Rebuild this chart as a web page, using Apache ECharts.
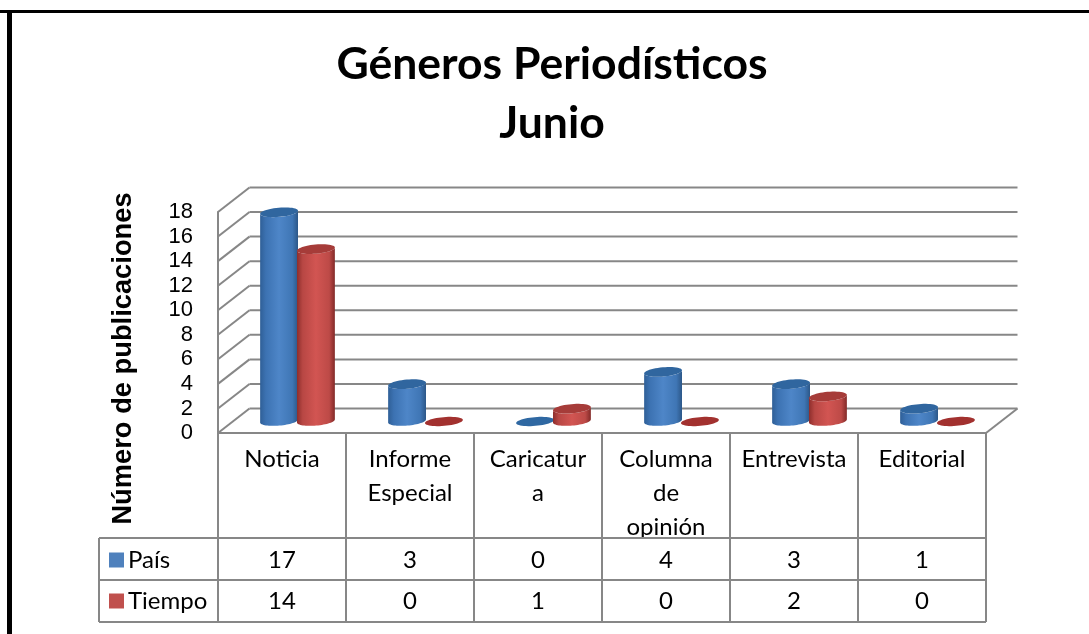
<!DOCTYPE html>
<html><head><meta charset="utf-8">
<style>html,body{margin:0;padding:0;background:#fff}#c{width:1089px;height:634px}</style>
<script src="https://cdn.jsdelivr.net/npm/echarts@6/dist/echarts.min.js"></script>
</head><body><div id="c"></div>
<script>
const categories = ['Noticia','Informe\nEspecial','Caricatur\na','Columna\nde\nopinión','Entrevista','Editorial'];
const pais = [17,3,0,4,3,1];
const tiempo = [14,0,1,0,2,0];
const yTicks = [0,2,4,6,8,10,12,14,16,18];
const seriesNames = ['País','Tiempo'];
const chartTitle = 'Géneros Periodísticos\nJunio';
const yName = 'Número de publicaciones';

const GRID='#878787', DX=31.5, DY=24.5, MIDX=15.5, MIDY=12, RX=19, RY=4.6, TILT=5*Math.PI/180;
const ROW=[538,580,622], TABLE_LEFT=99;
const CAL='Lato, Carlito, sans-serif';

function ell(cx,cy,rx,ry,from,to,n){
  const pts=[];
  for(let i=0;i<=n;i++){
    const t=from+(to-from)*i/n, x=rx*Math.cos(t), y=ry*Math.sin(t);
    pts.push([cx+x*Math.cos(TILT)+y*Math.sin(TILT), cy-x*Math.sin(TILT)+y*Math.cos(TILT)]);
  }
  return pts;
}
function cylinder(stops,topColor,flatColor,side){
  return function(p,api){
    const c0=api.coord([api.value(0),0]), c1=api.coord([api.value(0),api.value(1)]);
    const cx=c0[0]+MIDX+side*RX*0.97, yb=c0[1]-MIDY, yt=c1[1]-MIDY;
    if(api.value(1)===0){
      return {type:'polygon',shape:{points:ell(cx,yb+0.5,RX,RY*0.95,0,Math.PI*2,48)},style:{fill:flatColor,stroke:null}};
    }
    const bottom=ell(cx,yb,RX,RY,0,Math.PI,32), top=ell(cx,yt,RX,RY,Math.PI,0,32);
    const grad={type:'linear',x:0,y:0,x2:1,y2:0,colorStops:stops};
    return {type:'group',children:[
      {type:'polygon',shape:{points:bottom.concat(top)},style:{fill:grad}},
      {type:'polygon',shape:{points:ell(cx,yt,RX,RY,0,Math.PI*2,48)},style:{fill:topColor}}
    ]};
  };
}
function walls(p,api){
  const v=api.value(0), f0=api.coord([0,v]), s=api.size([1,0])[0];
  const x0=f0[0]-s/2, x1=x0+s*categories.length, y=f0[1];
  const line=(a,b,c,d)=>({type:'line',shape:{x1:a,y1:b,x2:c,y2:d},style:{stroke:GRID,lineWidth:2}});
  const kids=[line(x0+DX,y-DY,x1+DX,y-DY),line(x0,y,x0+DX,y-DY)];
  if(v===0) kids.push(line(x1,y,x1+DX,y-DY));
  return {type:'group',children:kids};
}
function table(p,api){
  const i=api.value(0), c=api.coord([i,0]), s=api.size([1,0])[0];
  const x0=c[0]-s/2, x1=c[0]+s/2;
  const line=(a,b,e,d)=>({type:'line',shape:{x1:a,y1:b,x2:e,y2:d},style:{stroke:GRID,lineWidth:2}});
  const cell=(v,y)=>({type:'text',style:{text:String(v),x:c[0],y:y,align:'center',verticalAlign:'middle',font:'24px '+CAL,fill:'#000'}});
  const kids=[line(x1,c[1],x1,ROW[2]),line(x0,ROW[0],x1,ROW[0]),line(x0,ROW[1],x1,ROW[1]),line(x0,ROW[2],x1,ROW[2]),
    cell(api.value(1),ROW[0]+22),cell(api.value(2),ROW[1]+21)];
  if(i===0){
    kids.push(line(x0,c[1],x0,ROW[2]),line(TABLE_LEFT,ROW[0],x0,ROW[0]),line(TABLE_LEFT,ROW[1],x0,ROW[1]),
      line(TABLE_LEFT,ROW[2],x0,ROW[2]),line(TABLE_LEFT,ROW[0],TABLE_LEFT,ROW[2]));
  }
  return {type:'group',children:kids};
}
const blueStops=[{offset:0,color:'#2f5f97'},{offset:.15,color:'#3c72b2'},{offset:.5,color:'#4e86c8'},{offset:.85,color:'#3f76b5'},{offset:1,color:'#2c5788'}];
const redStops=[{offset:0,color:'#8e2e2c'},{offset:.15,color:'#b84744'},{offset:.5,color:'#d25552'},{offset:.85,color:'#bd4a47'},{offset:1,color:'#822a28'}];
const common={type:'custom',coordinateSystem:'cartesian2d',clip:false,silent:true};
const chart=echarts.init(document.getElementById('c'),null,{renderer:'canvas'});
chart.setOption({
  animation:false,backgroundColor:'#fff',
  title:{text:chartTitle,left:547,textAlign:'center',top:30,textStyle:{fontFamily:CAL,fontWeight:'bold',fontSize:44.5,lineHeight:59,color:'#000'}},
  legend:{orient:'vertical',left:109,top:548,padding:0,icon:'rect',itemWidth:15,itemHeight:15,itemGap:17,data:seriesNames,selectedMode:false,
    textStyle:{fontFamily:CAL,fontSize:24,color:'#000',padding:[0,0,0,-1]}},
  grid:{left:218,right:103,top:212,bottom:201},
  xAxis:{type:'category',data:categories,boundaryGap:true,axisTick:{show:false},
    axisLine:{show:true,lineStyle:{color:GRID,width:2}},
    axisLabel:{interval:0,margin:9,fontFamily:CAL,fontSize:24,lineHeight:34,color:'#000',verticalAlign:'top'},splitLine:{show:false}},
  yAxis:{type:'value',min:0,max:18,interval:2,name:yName,nameLocation:'middle',nameGap:81,nameRotate:90,
    nameTextStyle:{fontFamily:'Liberation Sans',fontWeight:'bold',fontSize:27.3,color:'#000',padding:[0,72,0,0]},
    axisLine:{show:true,lineStyle:{color:GRID,width:2}},axisTick:{show:false},splitLine:{show:false},
    axisLabel:{margin:25,fontFamily:'Liberation Sans',fontSize:22,color:'#000',padding:[3,0,0,0],
      formatter:v=>yTicks.includes(v)?String(v):''}},
  graphic:[
    {type:'rect',shape:{x:0,y:10,width:1089,height:3},style:{fill:'#000'},z:10},
    {type:'rect',shape:{x:7,y:10,width:5,height:624},style:{fill:'#000'},z:10}
  ],
  series:[
    Object.assign({},common,{name:'_walls',z:1,renderItem:walls,data:yTicks.map(v=>[v]),encode:{y:0}}),
    Object.assign({},common,{name:'_table',z:1,renderItem:table,data:categories.map((c,i)=>[i,pais[i],tiempo[i]]),encode:{x:0}}),
    Object.assign({},common,{name:seriesNames[0],z:3,itemStyle:{color:'#4f81bd'},renderItem:cylinder(blueStops,'#30669f','#2f68a2',-1),
      data:pais.map((v,i)=>[i,v]),encode:{x:0,y:1}}),
    Object.assign({},common,{name:seriesNames[1],z:4,itemStyle:{color:'#c0504d'},renderItem:cylinder(redStops,'#a63c39','#a2312f',1),
      data:tiempo.map((v,i)=>[i,v]),encode:{x:0,y:1}})
  ]
});
</script></body></html>
